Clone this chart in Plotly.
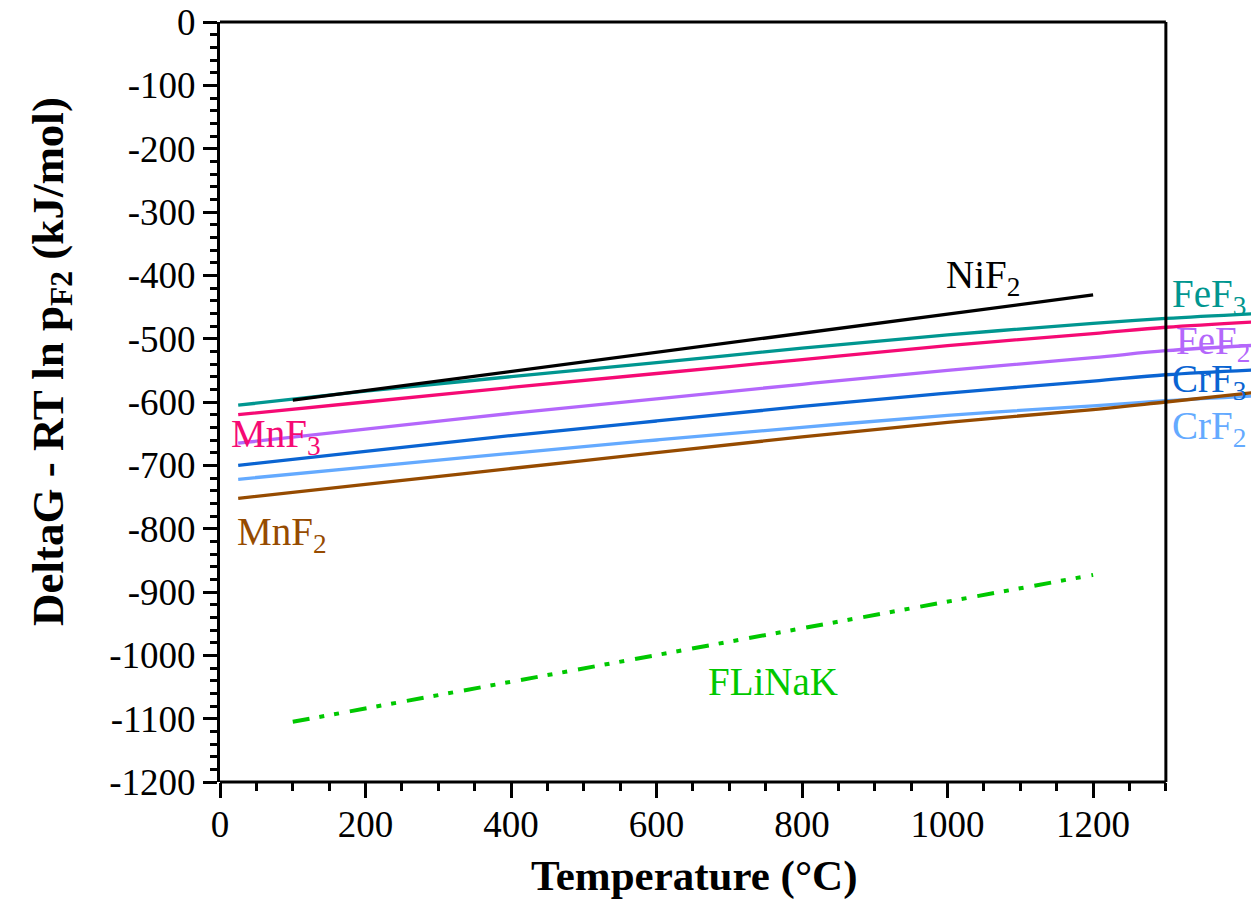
import plotly.graph_objects as go

# ---- data ----
T_main = [25, 200, 400, 600, 800, 1000, 1200, 1300, 1430]
FeF3 = [-605, -583, -560, -538, -515, -494, -476, -468, -460]
MnF3 = [-620, -600, -577, -555, -533, -511, -492, -482, -473]
FeF2 = [-665, -643, -618, -595, -572, -550, -530, -519, -510]
CrF3 = [-700, -678, -653, -630, -607, -586, -567, -557, -549]
CrF2 = [-722, -703, -681, -660, -640, -621, -606, -598, -590]
MnF2 = [-752, -730, -705, -680, -655, -632, -612, -600, -584]

T_ni = [100, 1200]
NiF2 = [-597, -431]

T_flinak = [100, 1200]
FLiNaK = [-1105, -873]

x_major = [0, 200, 400, 600, 800, 1000, 1200]
x_minor = [v for v in range(50, 1301, 50) if v % 200 != 0]
y_major = list(range(-1200, 1, 100))
y_labels = [str(v) for v in y_major]
X_END = 1300

FONT = "Liberation Serif"

# page offset (body margin) and plot-area geometry in screen pixels
OFF = 8
PL, PR, PT, PB = 220, 1259, 22, 782
W, H = 1259 - OFF, 920 - OFF
XMAX = 1428

series = [
    ("FeF3", T_main, FeF3, "#009690"),
    ("MnF3", T_main, MnF3, "#f50a74"),
    ("FeF2", T_main, FeF2, "#b467fb"),
    ("CrF3", T_main, CrF3, "#0a64d2"),
    ("CrF2", T_main, CrF2, "#64aaff"),
    ("MnF2", T_main, MnF2, "#964b00"),
]

fig = go.Figure()
for name, xs, ys, col in series:
    fig.add_trace(go.Scatter(x=xs, y=ys, mode="lines", name=name,
                             line=dict(color=col, width=3.3, shape="spline")))
fig.add_trace(go.Scatter(x=T_ni, y=NiF2, mode="lines", name="NiF2",
                         line=dict(color="black", width=3.3)))
fig.add_trace(go.Scatter(x=T_flinak, y=FLiNaK, mode="lines", name="FLiNaK",
                         line=dict(color="#00c800", width=4,
                                   dash="17px,10px,5px,10px,5px,11px")))

# screen pixel -> data / paper helpers for label placement
def px2x(px):
    return (px - PL) / ((PR - PL) / XMAX)

def px2y(py):
    return (PT - py) / ((PB - PT) / 1200)

def px2paper_x(px):
    return (px - PL) / (PR - PL)

def px2paper_y(py):
    return (PB - py) / (PB - PT)

labels = [
    ("NiF<sub>2</sub>", 944, 277, "black"),
    ("FeF<sub>3</sub>", 1170, 296, "#009690"),
    ("FeF<sub>2</sub>", 1174, 343, "#b467fb"),
    ("CrF<sub>3</sub>", 1170, 381, "#0a64d2"),
    ("CrF<sub>2</sub>", 1170, 428, "#64aaff"),
    ("MnF<sub>3</sub>", 229, 436, "#f50a74"),
    ("MnF<sub>2</sub>", 235, 534, "#964b00"),
    ("FLiNaK", 706, 681, "#00c800"),
]
annotations = []
for txt, px, py, col in labels:
    annotations.append(dict(x=px2x(px), y=px2y(py), xref="x", yref="y",
                            text=txt, showarrow=False, xanchor="left",
                            yanchor="middle",
                            font=dict(family=FONT, size=39, color=col)))

annotations.append(dict(x=px2paper_x(694), y=px2paper_y(876),
                        xref="paper", yref="paper",
                        text="<b>Temperature (°C)</b>", showarrow=False,
                        xanchor="center", yanchor="middle",
                        font=dict(family=FONT, size=43, color="black")))
annotations.append(dict(x=px2paper_x(51), y=px2paper_y(362),
                        xref="paper", yref="paper",
                        text="<b>DeltaG - RT ln p<sub>F2</sub> (kJ/mol)</b>",
                        textangle=-90, showarrow=False,
                        xanchor="center", yanchor="middle",
                        font=dict(family=FONT, size=45, color="black")))

xe = X_END / XMAX  # paper x of the right frame edge
shapes = [
    dict(type="line", xref="paper", yref="paper", x0=0, x1=xe, y0=0, y1=0,
         line=dict(color="black", width=3)),
    dict(type="line", xref="paper", yref="paper", x0=0, x1=xe, y0=1, y1=1,
         line=dict(color="black", width=3)),
    dict(type="line", xref="paper", yref="paper", x0=xe, x1=xe, y0=0, y1=1,
         line=dict(color="black", width=3)),
]

fig.update_layout(
    width=W, height=H,
    margin=dict(l=PL - OFF, r=W - (PR - OFF), t=PT - OFF, b=H - (PB - OFF),
                autoexpand=False),
    plot_bgcolor="white", paper_bgcolor="white",
    showlegend=False,
    font=dict(family=FONT, size=37, color="black"),
    annotations=annotations,
    shapes=shapes,
)

fig.update_xaxes(range=[0, XMAX], showgrid=False, zeroline=False, showline=False,
                 tickmode="array", tickvals=x_major,
                 ticks="outside", ticklen=15, tickwidth=3, tickcolor="black",
                 ticklabeloverflow="allow", ticklabelstandoff=-5,
                 tickfont=dict(family=FONT, size=37, color="black"),
                 minor=dict(tickmode="array", tickvals=x_minor, ticks="outside",
                            ticklen=8, tickwidth=2.5, tickcolor="black",
                            showgrid=False))
fig.update_yaxes(range=[-1200, 0], showgrid=False, zeroline=False,
                 showline=True, linecolor="black", linewidth=3,
                 tickmode="array", tickvals=y_major, ticktext=y_labels,
                 ticks="outside", ticklen=14, tickwidth=3, tickcolor="black",
                 ticklabeloverflow="allow",
                 tickfont=dict(family=FONT, size=37, color="black"),
                 minor=dict(dtick=20, tick0=0, ticks="outside",
                            ticklen=7, tickwidth=2.5, tickcolor="black",
                            showgrid=False))

fig.write_html("out.html")
